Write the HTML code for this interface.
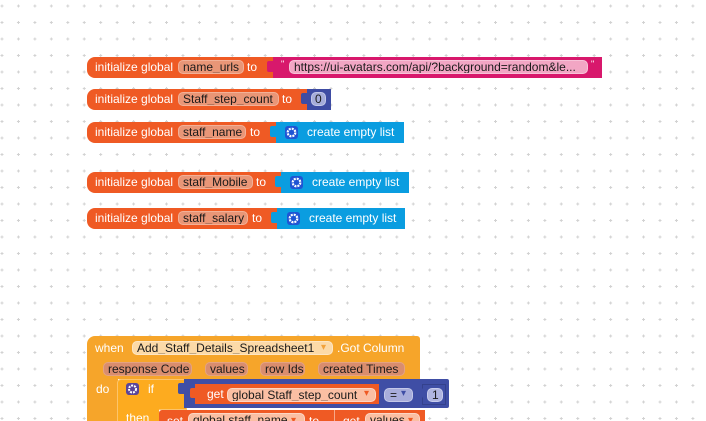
<!DOCTYPE html>
<html><head><meta charset="utf-8">
<style>
html,body{margin:0;padding:0;width:706px;height:421px;overflow:hidden;background:#fff;}
body{position:relative;font-family:"Liberation Sans",Arial,sans-serif;font-size:12px;}
.a{position:absolute;}
.t{position:absolute;color:#fff;white-space:nowrap;line-height:14px;height:14px;}
.p{position:absolute;white-space:nowrap;height:14px;line-height:12px;color:#1a1a1a;border-radius:5px;box-sizing:border-box;border:1px solid transparent;padding-left:4px;overflow:hidden;}
.v{background:#e99677;border-color:#f2b198;}
.o{background:#ef5a24;}
.pk{background:#d8186c;}
.nb{background:#3e4ca3;}
.lb{background:#0a9de0;}
.gear{position:absolute;width:13px;height:13px;background:#1f55d4;border-radius:3px;}
.gear svg{position:absolute;left:0;top:0;}
</style></head>
<body>
<svg class="a" style="left:0;top:0" width="706" height="421">
<defs><pattern id="g" x="0" y="4" width="16.45" height="16.5" patternUnits="userSpaceOnUse">
<path d="M0.5 2H3.5M2 0.5V3.5" stroke="#d2d2d2" stroke-width="1"/>
</pattern></defs>
<rect width="706" height="421" fill="url(#g)"/>
</svg>

<!-- Block 1 -->
<div class="a o" style="left:87px;top:57px;width:188px;height:21px;border-radius:8px 0 0 8px;"></div>
<div class="t" style="left:95px;top:60px;">initialize global</div>
<div class="p v" style="left:178px;top:60px;width:66px;">name_urls</div>
<div class="t" style="left:247px;top:60px;">to</div>
<div class="a pk" style="left:273px;top:57px;width:329px;height:21px;"></div>
<div class="a pk" style="left:267px;top:61px;width:8px;height:11px;border-radius:2px;"></div>
<div class="t" style="left:281px;top:57px;font-size:9px;">"</div>
<div class="p" style="left:289px;top:60px;width:299px;background:#f2a6c4;border-color:#f7c3d8;">https://ui-avatars.com/api/?background=random&amp;le...</div>
<div class="t" style="left:591px;top:57px;font-size:9px;">"</div>

<!-- Block 2 -->
<div class="a o" style="left:87px;top:89px;width:222px;height:21px;border-radius:8px 0 0 8px;"></div>
<div class="t" style="left:95px;top:92px;">initialize global</div>
<div class="p v" style="left:178px;top:92px;width:101px;">Staff_step_count</div>
<div class="t" style="left:282px;top:92px;">to</div>
<div class="a nb" style="left:307px;top:89px;width:24px;height:21px;"></div>
<div class="a nb" style="left:301px;top:93px;width:8px;height:11px;border-radius:2px;"></div>
<div class="p" style="left:311px;top:92px;width:15px;background:#a5acd9;border-color:#c2c7e8;padding-left:3px;">0</div>

<!-- Block 3 -->
<div class="a o" style="left:87px;top:122px;width:191px;height:21px;border-radius:8px 0 0 8px;"></div>
<div class="t" style="left:95px;top:125px;">initialize global</div>
<div class="p v" style="left:178px;top:125px;width:68px;">staff_name</div>
<div class="t" style="left:250px;top:125px;">to</div>
<div class="a lb" style="left:276px;top:122px;width:128px;height:21px;"></div>
<div class="a lb" style="left:270px;top:126px;width:8px;height:11px;border-radius:2px;"></div>
<div class="gear" style="left:285px;top:126px;"><svg width="13" height="13"><circle cx="6.5" cy="6.5" r="3.8" fill="none" stroke="#fff" stroke-width="2.2" stroke-dasharray="2 1"/><circle cx="6.5" cy="6.5" r="1.3" fill="#1f55d4"/></svg></div>
<div class="t" style="left:307px;top:125px;">create empty list</div>

<!-- Block 4 -->
<div class="a o" style="left:87px;top:172px;width:196px;height:21px;border-radius:8px 0 0 8px;"></div>
<div class="t" style="left:95px;top:175px;">initialize global</div>
<div class="p v" style="left:178px;top:175px;width:75px;">staff_Mobile</div>
<div class="t" style="left:256px;top:175px;">to</div>
<div class="a lb" style="left:281px;top:172px;width:128px;height:21px;"></div>
<div class="a lb" style="left:275px;top:176px;width:8px;height:11px;border-radius:2px;"></div>
<div class="gear" style="left:290px;top:176px;"><svg width="13" height="13"><circle cx="6.5" cy="6.5" r="3.8" fill="none" stroke="#fff" stroke-width="2.2" stroke-dasharray="2 1"/><circle cx="6.5" cy="6.5" r="1.3" fill="#1f55d4"/></svg></div>
<div class="t" style="left:312px;top:175px;">create empty list</div>

<!-- Block 5 -->
<div class="a o" style="left:87px;top:208px;width:192px;height:21px;border-radius:8px 0 0 8px;"></div>
<div class="t" style="left:95px;top:211px;">initialize global</div>
<div class="p v" style="left:178px;top:211px;width:70px;">staff_salary</div>
<div class="t" style="left:252px;top:211px;">to</div>
<div class="a lb" style="left:277px;top:208px;width:128px;height:21px;"></div>
<div class="a lb" style="left:271px;top:212px;width:8px;height:11px;border-radius:2px;"></div>
<div class="gear" style="left:287px;top:212px;"><svg width="13" height="13"><circle cx="6.5" cy="6.5" r="3.8" fill="none" stroke="#fff" stroke-width="2.2" stroke-dasharray="2 1"/><circle cx="6.5" cy="6.5" r="1.3" fill="#1f55d4"/></svg></div>
<div class="t" style="left:309px;top:211px;">create empty list</div>

<!-- Event block -->
<div class="a" style="left:87px;top:336px;width:333px;height:43px;background:#f6a52a;border-radius:8px 3px 0 0;"></div>
<div class="a" style="left:87px;top:378px;width:31px;height:50px;background:#f6a52a;"></div>
<div class="t" style="left:95px;top:341px;">when</div>
<div class="p" style="left:132px;top:341px;width:201px;background:#fcdaa8;border-color:#fde6c4;">Add_Staff_Details_Spreadsheet1</div>
<div class="t" style="left:321px;top:341px;color:#f2a23a;font-size:10px;">▾</div>
<div class="t" style="left:337px;top:341px;">.Got Column</div>
<div class="p" style="left:103px;top:362px;width:89px;background:#d98d6e;border-color:#e3a283;">response Code</div>
<div class="p" style="left:205px;top:362px;width:43px;background:#d98d6e;border-color:#e3a283;">values</div>
<div class="p" style="left:260px;top:362px;width:45px;background:#d98d6e;border-color:#e3a283;">row Ids</div>
<div class="p" style="left:318px;top:362px;width:87px;background:#d98d6e;border-color:#e3a283;">created Times</div>
<div class="t" style="left:96px;top:382px;">do</div>

<!-- If block -->
<div class="a" style="left:117px;top:379px;width:70px;height:31px;background:#fdab1f;border:1px solid #fdc46a;box-sizing:border-box;border-radius:4px 0 0 0;"></div>
<div class="a" style="left:117px;top:408px;width:42px;height:20px;background:#fdab1f;border-left:1px solid #fdc46a;box-sizing:border-box;"></div>
<div class="a" style="left:126px;top:383px;width:13px;height:12px;background:#5a4599;border-radius:3px;"><svg width="13" height="12"><circle cx="6.5" cy="6" r="3.5" fill="none" stroke="#fff" stroke-width="2" stroke-dasharray="2 1"/><circle cx="6.5" cy="6" r="1.2" fill="#5a4599"/></svg></div>
<div class="t" style="left:148px;top:382px;">if</div>
<div class="t" style="left:126px;top:411px;">then</div>

<!-- Compare block -->
<div class="a" style="left:184px;top:379px;width:265px;height:29px;background:#3f4ea5;border-radius:0 2px 2px 0;"></div>
<div class="a" style="left:178px;top:383px;width:8px;height:11px;background:#3f4ea5;border-radius:2px;"></div>
<div class="a o" style="left:195px;top:384px;width:184px;height:20px;"></div>
<div class="a o" style="left:190px;top:388px;width:7px;height:10px;border-radius:2px;"></div>
<div class="t" style="left:207px;top:387px;">get</div>
<div class="p" style="left:227px;top:388px;width:149px;background:#fbbfa3;border-color:#fdd6c4;">global Staff_step_count</div>
<div class="t" style="left:364px;top:387px;color:#ef5a24;font-size:10px;">▾</div>
<div class="p" style="left:384px;top:388px;width:29px;background:#a8addb;border-color:#c4c8e9;padding-left:5px;">=</div>
<div class="t" style="left:401px;top:387px;color:#3f4ea5;font-size:10px;">▾</div>
<div class="a" style="left:422px;top:384px;width:24px;height:21px;background:#3f4ea5;border:1px solid #34418c;box-sizing:border-box;"></div>
<div class="a" style="left:417px;top:388px;width:6px;height:10px;background:#3f4ea5;border-radius:2px;"></div>
<div class="p" style="left:427px;top:388px;width:16px;background:#b0b5e0;border-color:#c8cced;padding-left:4px;">1</div>

<!-- Set block -->
<div class="a o" style="left:159px;top:410px;width:266px;height:20px;border-radius:3px 0 0 0;"></div>
<div class="t" style="left:167px;top:414px;">set</div>
<div class="p" style="left:188px;top:413px;width:117px;background:#fbbfa3;border-color:#fdd6c4;">global staff_name</div>
<div class="t" style="left:291px;top:414px;color:#ef5a24;font-size:10px;">▾</div>
<div class="t" style="left:309px;top:414px;">to</div>
<div class="a" style="left:334px;top:410px;width:1px;height:12px;background:#f7a888;"></div>
<div class="t" style="left:343px;top:414px;">get</div>
<div class="p" style="left:365px;top:413px;width:55px;background:#fbbfa3;border-color:#fdd6c4;">values</div>
<div class="t" style="left:408px;top:414px;color:#ef5a24;font-size:10px;">▾</div>
</body></html>
